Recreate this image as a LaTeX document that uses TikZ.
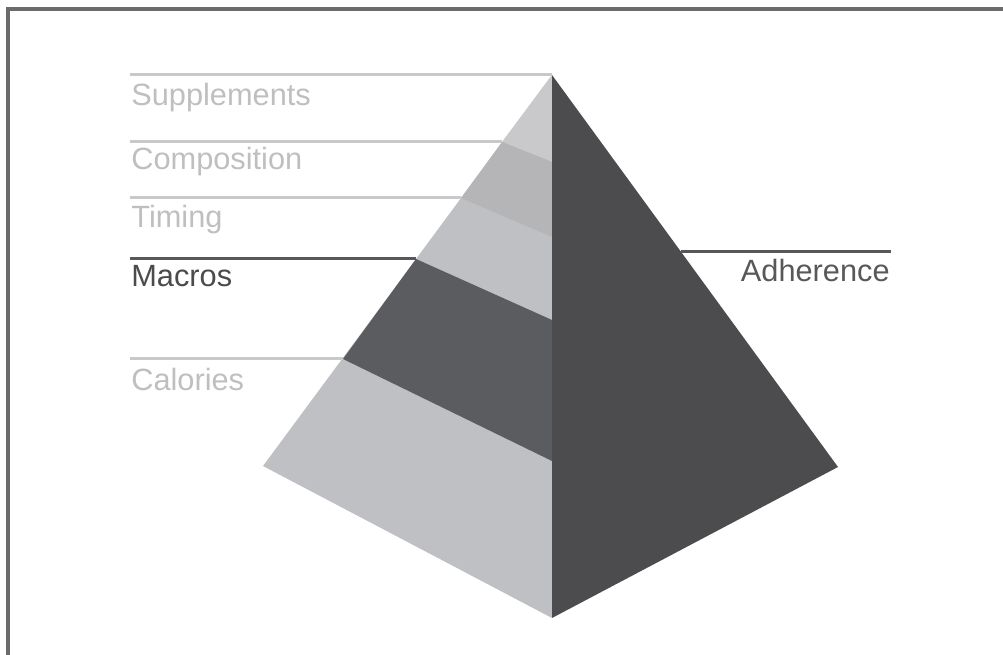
\documentclass[tikz,border=0pt]{standalone}
\usepackage{fontspec}
\setmainfont{Liberation Sans}

\definecolor{frameg}{HTML}{6B6B6D}
\definecolor{litef}{HTML}{BFC0C3}
\definecolor{compf}{HTML}{B5B5B7}
\definecolor{macf}{HTML}{5B5C5F}
\definecolor{darkf}{HTML}{4C4C4F}
\definecolor{liteln}{HTML}{C9C9CB}
\definecolor{darkln}{HTML}{58585A}

\tikzset{
  lbl/.style={anchor=base west,inner sep=0,font=\fontsize{17.5}{20}\selectfont,text=liteln!95!black},
  lead/.style={draw=liteln,line width=.6mm},
  darklead/.style={draw=darkln,line width=.6mm}
}

\begin{document}
\begin{tikzpicture}[x=.2mm,y=-.2mm]
\useasboundingbox (0,0) rectangle (1003,655);
% frame, top and left only
\draw[frameg,line width=.8mm] (8,655) -- (8,9) -- (1003,9);

% pyramid corners
\coordinate (top) at (552,75);
\coordinate (lft) at (263,466);
\coordinate (rgt) at (838,467);
\coordinate (bot) at (552,618);
% band borders: on the left edge and on the middle edge
\coordinate (l1) at (502,142); \coordinate (m1) at (552,162);
\coordinate (l2) at (461,198); \coordinate (m2) at (552,237);
\coordinate (l3) at (416,259); \coordinate (m3) at (552,320);
\coordinate (l4) at (343,359); \coordinate (m4) at (552,461);
\coordinate (r1) at (681,252);

\fill[litef] (top) -- (lft) -- (bot) -- cycle;
\fill[litef!85!white] (top) -- (l1) -- (m1) -- cycle;
\fill[compf] (l1) -- (l2) -- (m2) -- (m1) -- cycle;
\fill[macf] (l3) -- (l4) -- (m4) -- (m3) -- cycle;
\fill[darkf] (top) -- (rgt) -- (bot) -- cycle;

% leader lines
\coordinate (e0) at (130,75);
\coordinate (e1) at (130,142);
\coordinate (e2) at (130,198);
\coordinate (e3) at (130,259);
\coordinate (e4) at (130,359);
\coordinate (e5) at (891,252);
\draw[lead] (e0) -- (top);
\draw[lead] (e1) -- (l1);
\draw[lead] (e2) -- (l2);
\draw[darklead] (e3) -- (l3);
\draw[lead] (e4) -- (l4);
\draw[darklead] (r1) -- (e5);

% labels
\node[lbl] (sup) at (131,106) {Supplements};
\node[lbl] (comp) at (131,170) {Composition};
\node[lbl] (tim) at (131,228) {Timing};
\node[lbl,text=darkln!85!black] (mac) at (131,287) {Macros};
\node[lbl] (cal) at (131,390) {Calories};
\node[lbl,anchor=base east,text=darkln] (adh) at (890,282) {Adherence};
\end{tikzpicture}
\end{document}
